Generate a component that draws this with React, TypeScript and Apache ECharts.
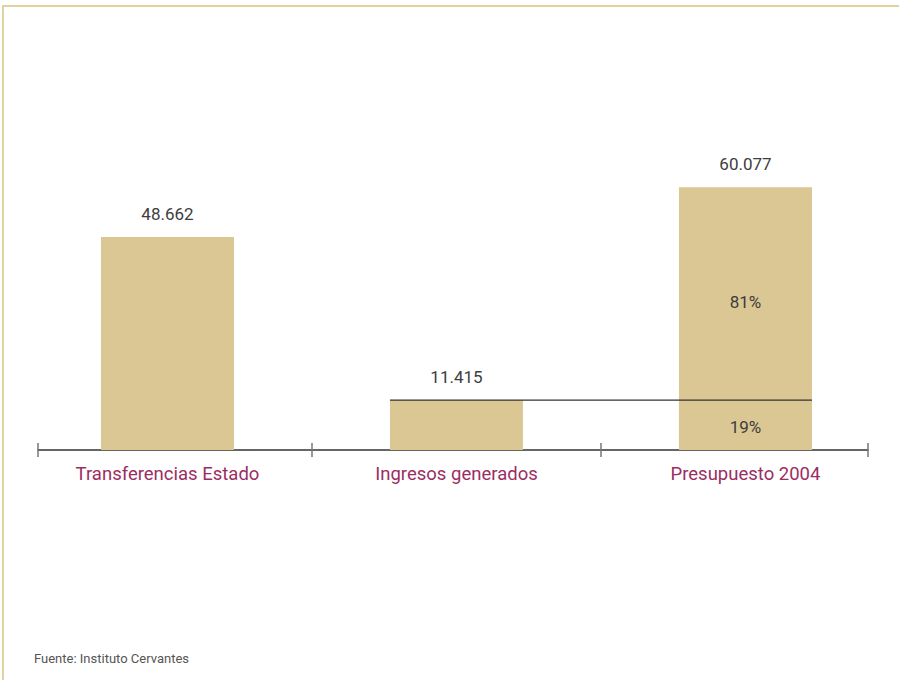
import React, { useEffect, useRef } from "react";
import * as echarts from "echarts";

const categories = ["Transferencias Estado", "Ingresos generados", "Presupuesto 2004"];
const transferencias = 48662;
const ingresos = 11415;
const presupuesto = transferencias + ingresos; // 60.077
const barValues = [transferencias, ingresos, presupuesto];
const axisTickValues = [-0.448, 0.5, 1.5, 2.424];
const sourceText = "Fuente: Instituto Cervantes";

const BAR_W = 133;
const UNIT_PX = 289;
const X_MIN = -0.448;
const X_MAX = 2.424;

const fmt = (v: number) => String(v).replace(/\B(?=(\d{3})+(?!\d))/g, ".");
const pct = (v: number) => Math.round((v / presupuesto) * 100) + "%";

const FONT = "Roboto, 'Noto Sans', sans-serif";
const BAR_COLOR = "#dbc794";
const NUM_COLOR = "#3d3d3d";
const CAT_COLOR = "#9b2d62";
const NUM_SIZE = 17;

export default function App() {
  const ref = useRef<HTMLDivElement>(null);
  useEffect(() => {
    if (!ref.current) return;
    const chart = echarts.init(ref.current, null, { renderer: "svg" });
    const hw = BAR_W / 2 / UNIT_PX;
    const numLabel = { color: NUM_COLOR, fontFamily: FONT, fontSize: NUM_SIZE };
    chart.setOption({
      animation: false,
      grid: { left: 38, right: 31, top: 100, bottom: 230 },
      xAxis: [
        {
          type: "value",
          min: X_MIN,
          max: X_MAX,
          position: "bottom",
          splitLine: { show: false },
          axisLine: { show: true, lineStyle: { color: "#333", width: 1.5 } },
          axisTick: { show: true, length: 7, customValues: axisTickValues, lineStyle: { color: "#777", width: 1.5 } },
          axisLabel: {
            show: true,
            customValues: [0, 1, 2],
            formatter: (v: number) => categories[Math.round(v)] ?? "",
            color: CAT_COLOR,
            fontFamily: FONT,
            fontSize: 18.5,
            margin: 14,
          },
        },
        {
          type: "value",
          min: X_MIN,
          max: X_MAX,
          position: "bottom",
          offset: 0,
          splitLine: { show: false },
          axisLine: { show: false },
          axisTick: { show: true, inside: true, length: 7, customValues: axisTickValues, lineStyle: { color: "#777", width: 1.5 } },
          axisLabel: { show: false },
        },
      ],
      yAxis: { type: "value", min: 0, max: 80000, show: false },
      series: [
        {
          type: "bar",
          barWidth: BAR_W,
          barGap: "-100%",
          itemStyle: { color: BAR_COLOR },
          data: barValues.map((v, i) => [i, v]),
          label: { show: true, position: "top", distance: 15, ...numLabel, formatter: (p: any) => fmt(p.value[1]) },
        },
        {
          type: "bar",
          barWidth: BAR_W,
          barGap: "-100%",
          itemStyle: { color: BAR_COLOR },
          data: [[2, ingresos]],
          label: { show: true, position: "inside", offset: [0, 2], ...numLabel, formatter: () => pct(ingresos) },
        },
        {
          type: "scatter",
          symbol: "circle",
          symbolSize: 2,
          z: 6,
          itemStyle: { color: "rgba(0,0,0,0)", opacity: 1 },
          data: [[2, ingresos + transferencias / 2]],
          label: { show: true, position: "inside", offset: [0, 8], ...numLabel, formatter: () => pct(transferencias) },
        },
        {
          type: "line",
          symbol: "none",
          z: 5,
          lineStyle: { color: "#333", width: 1.3 },
          data: [[1 - hw, ingresos], [2 + hw, ingresos]],
        },
      ],
      graphic: [
        {
          type: "text",
          left: 34,
          top: 652,
          style: { text: sourceText, fill: "#555", font: "13px " + FONT },
        },
      ],
    });
    return () => chart.dispose();
  }, []);
  return (
    <div style={{ position: "absolute", left: 0, top: 0, width: 899, height: 680, background: "#fff" }}>
      <div
        style={{
          position: "absolute",
          left: 2,
          top: 5,
          right: 0,
          bottom: 0,
          borderTop: "2px solid #e2d29f",
          borderLeft: "2px solid #e2d29f",
        }}
      />
      <div ref={ref} style={{ position: "absolute", left: 0, top: 0, width: 899, height: 680 }} />
    </div>
  );
}
